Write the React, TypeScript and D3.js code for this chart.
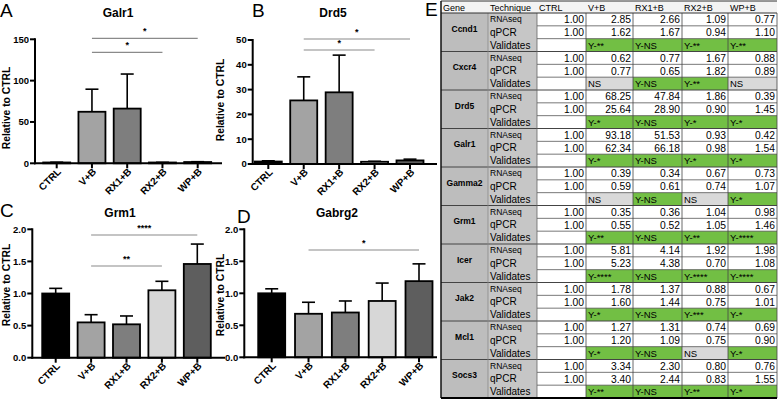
import React from "react";
import * as d3 from "d3";

// ---------- bar chart data ----------
const groups = ["CTRL", "V+B", "RX1+B", "RX2+B", "WP+B"];
const barFills = ["#000000", "#a3a3a3", "#7e7e7e", "#d7d7d7", "#5e5e5e"];

const galr1Mean = [1.0, 62.34, 66.18, 0.98, 1.54];
const galr1Sem = [0.3, 27.3, 41.8, 0.2, 0.4];
const galr1Ticks = [0, 50, 100, 150];

const drd5Mean = [1.0, 25.64, 28.9, 0.9, 1.45];
const drd5Sem = [0.3, 9.5, 15.0, 0.2, 0.5];
const drd5Ticks = [0, 10, 20, 30, 40, 50];

const grm1Mean = [1.0, 0.55, 0.52, 1.05, 1.46];
const grm1Sem = [0.08, 0.12, 0.13, 0.14, 0.31];
const grm1Ticks = [0, 0.5, 1.0, 1.5, 2.0];

const gabrg2Mean = [1.0, 0.68, 0.7, 0.88, 1.19];
const gabrg2Sem = [0.07, 0.18, 0.18, 0.28, 0.27];
const gabrg2Ticks = [0, 0.5, 1.0, 1.5, 2.0];

const galr1Sig = [
  { from: "V+B", to: "WP+B", label: "*" },
  { from: "V+B", to: "RX2+B", label: "*" },
];
const drd5Sig = [
  { from: "V+B", to: "WP+B", label: "*" },
  { from: "V+B", to: "RX2+B", label: "*" },
];
const grm1Sig = [
  { from: "V+B", to: "WP+B", label: "****" },
  { from: "V+B", to: "RX2+B", label: "**" },
];
const gabrg2Sig = [{ from: "V+B", to: "WP+B", label: "*" }];

// ---------- table data ----------
const tableHeader = ["Gene", "Technique", "CTRL", "V+B", "RX1+B", "RX2+B", "WP+B"];
const techniques = ["RNAseq", "qPCR", "Validates"];
const genes = ["Ccnd1", "Cxcr4", "Drd5", "Galr1", "Gamma2", "Grm1", "Icer", "Jak2", "Mcl1", "Socs3"];
const ctrlValue = 1.0;
const rnaseqValues = [
  [2.85, 2.66, 1.09, 0.77],
  [0.62, 0.77, 1.67, 0.88],
  [68.25, 47.84, 1.86, 0.39],
  [93.18, 51.53, 0.93, 0.42],
  [0.39, 0.34, 0.67, 0.73],
  [0.35, 0.36, 1.04, 0.98],
  [5.81, 4.14, 1.92, 1.98],
  [1.78, 1.37, 0.88, 0.67],
  [1.27, 1.31, 0.74, 0.69],
  [3.34, 2.3, 0.8, 0.76],
];
const qpcrValues = [
  [1.62, 1.67, 0.94, 1.1],
  [0.77, 0.65, 1.82, 0.89],
  [25.64, 28.9, 0.9, 1.45],
  [62.34, 66.18, 0.98, 1.54],
  [0.59, 0.61, 0.74, 1.07],
  [0.55, 0.52, 1.05, 1.46],
  [5.23, 4.38, 0.7, 1.08],
  [1.6, 1.44, 0.75, 1.01],
  [1.2, 1.09, 0.75, 0.9],
  [3.4, 2.44, 0.83, 1.55],
];
const validates = [
  ["Y-**", "Y-NS", "Y-**", "Y-**"],
  ["NS", "Y-NS", "Y-**", "NS"],
  ["Y-*", "Y-NS", "Y-*", "Y-*"],
  ["Y-*", "Y-NS", "Y-*", "Y-*"],
  ["NS", "Y-NS", "NS", "Y-*"],
  ["Y-**", "Y-NS", "Y-**", "Y-****"],
  ["Y-****", "Y-NS", "Y-****", "Y-****"],
  ["Y-*", "Y-NS", "Y-***", "Y-*"],
  ["Y-*", "Y-NS", "NS", "Y-*"],
  ["Y-**", "Y-NS", "Y-**", "Y-*"],
];

const FONT = "'Liberation Sans', Arial, sans-serif";

type Sig = { from: string; to: string; label: string };
type PanelProps = {
  letter: string;
  letterPos: [number, number];
  title: string;
  titleX: number;
  titleY: number;
  mean: number[];
  sem: number[];
  ticks: number[];
  fmt: (v: number) => string;
  axisX: number;
  axisEnd: number;
  yPix: [number, number];
  xPix: [number, number];
  sig: Sig[];
  sigY: number[];
  ylabel: [number, number];
};

function BarPanel(p: PanelProps) {
  const yMax = p.ticks[p.ticks.length - 1];
  const y = d3.scaleLinear().domain([0, yMax]).range(p.yPix);
  const x = d3.scalePoint<string>().domain(groups).range(p.xPix);
  const bw = 27;
  const y0 = y(0);
  return (
    <g fontFamily={FONT}>
      <text x={p.letterPos[0]} y={p.letterPos[1]} fontSize={19} fill="#000">
        {p.letter}
      </text>
      <text x={p.titleX} y={p.titleY} fontSize={12} fontWeight="bold" textAnchor="middle">
        {p.title}
      </text>
      <text
        transform={`translate(${p.ylabel[0]},${p.ylabel[1]}) rotate(-90)`}
        fontSize={10.3}
        fontWeight="bold"
        textAnchor="middle"
      >
        Relative to CTRL
      </text>
      {p.sig.map((s, i) => (
        <g key={i}>
          <line x1={x(s.from)!} x2={x(s.to)!} y1={p.sigY[i]} y2={p.sigY[i]} stroke="#8a8a8a" strokeWidth={1.2} />
          <text x={(x(s.from)! + x(s.to)!) / 2} y={p.sigY[i] - 4} fontSize={9} fontWeight="bold" textAnchor="middle">
            {s.label}
          </text>
        </g>
      ))}
      {groups.map((g, i) => {
        const top = y(p.mean[i] + p.sem[i]);
        const cx = x(g)!;
        return (
          <g key={"e" + g} stroke="#000" strokeWidth={1.6}>
            <line x1={cx} x2={cx} y1={y(p.mean[i])} y2={top} />
            <line x1={cx - 6.5} x2={cx + 6.5} y1={top} y2={top} />
          </g>
        );
      })}
      {groups.map((g, i) => {
        const top = y(p.mean[i]);
        return (
          <rect
            key={"b" + g}
            x={x(g)! - bw / 2}
            y={top}
            width={bw}
            height={Math.max(0.5, y0 - top)}
            fill={barFills[i]}
            stroke="#000"
            strokeWidth={1.8}
          />
        );
      })}
      <line x1={p.axisX} x2={p.axisX} y1={y(yMax) - 1} y2={y0 + 1} stroke="#000" strokeWidth={2} />
      <line x1={p.axisX - 1} x2={p.axisEnd} y1={y0} y2={y0} stroke="#000" strokeWidth={2} />
      {p.ticks.map((t) => (
        <g key={"t" + t}>
          <line x1={p.axisX - 5} x2={p.axisX} y1={y(t)} y2={y(t)} stroke="#000" strokeWidth={2} />
          <text x={p.axisX - 6} y={y(t)} dy="0.35em" fontSize={9.5} fontWeight="bold" textAnchor="end">
            {p.fmt(t)}
          </text>
        </g>
      ))}
      {groups.map((g) => (
        <g key={"x" + g}>
          <line x1={x(g)!} x2={x(g)!} y1={y0} y2={y0 + 5} stroke="#000" strokeWidth={2} />
          <text
            transform={`translate(${x(g)! + 5},${y0 + 9}) rotate(-45)`}
            fontSize={10}
            fontWeight="bold"
            textAnchor="end"
          >
            {g}
          </text>
        </g>
      ))}
    </g>
  );
}

function Table() {
  const colX = [441, 488, 537, 586, 633, 682, 728, 777];
  const headerTop = 1;
  const headerBottom = 13;
  const nRows = genes.length * 3;
  const row = d3.scaleLinear().domain([0, nRows]).range([headerBottom, 398]);
  const rh = row(1) - row(0);
  const green = "#72bf44";
  const nsGray = "#d9d9d9";
  const cells: JSX.Element[] = [];
  const lines: JSX.Element[] = [];
  const texts: JSX.Element[] = [];

  cells.push(<rect key="hdr" x={colX[0]} y={headerTop} width={colX[7] - colX[0]} height={headerBottom - headerTop} fill="#f3f3f3" />);
  tableHeader.forEach((h, i) => {
    texts.push(
      <text key={"h" + i} x={colX[i] + 2} y={10.5} fontSize={9}>
        {h}
      </text>
    );
  });

  genes.forEach((gene, gi) => {
    const top = row(gi * 3);
    const bottom = row(gi * 3 + 3);
    cells.push(<rect key={"g" + gi} x={colX[0]} y={top} width={colX[1] - colX[0]} height={bottom - top} fill="#bdbdbd" />);
    cells.push(<rect key={"tc" + gi} x={colX[1]} y={top} width={colX[2] - colX[1]} height={bottom - top} fill="#c6c6c6" />);
    texts.push(
      <text key={"gn" + gi} x={(colX[0] + colX[1]) / 2} y={top + 16} dy="0.35em" fontSize={8.5} fontWeight="bold" textAnchor="middle">
        {gene}
      </text>
    );
    techniques.forEach((t, ti) => {
      const ry = row(gi * 3 + ti);
      texts.push(
        <text key={"tn" + gi + ti} x={colX[1] + 2} y={ry + rh / 2} dy="0.36em" fontSize={ti === 0 ? 8.5 : 10}>
          {t}
        </text>
      );
    });
    const rowsVals = [rnaseqValues[gi], qpcrValues[gi]];
    rowsVals.forEach((vals, ri) => {
      const ry = row(gi * 3 + ri);
      [ctrlValue, ...vals].forEach((v, ci) => {
        texts.push(
          <text key={"v" + gi + ri + ci} x={colX[ci + 3] - 2} y={ry + rh / 2} dy="0.37em" fontSize={10.3} textAnchor="end">
            {v.toFixed(2)}
          </text>
        );
      });
      lines.push(<line key={"hl" + gi + ri} x1={colX[2]} x2={colX[7]} y1={row(gi * 3 + ri + 1)} y2={row(gi * 3 + ri + 1)} stroke="#555" strokeWidth={0.8} />);
    });
    const vy = row(gi * 3 + 2);
    validates[gi].forEach((v, ci) => {
      cells.push(
        <rect key={"vc" + gi + ci} x={colX[ci + 3]} y={vy} width={colX[ci + 4] - colX[ci + 3]} height={rh} fill={v === "NS" ? nsGray : green} />
      );
      texts.push(
        <text key={"vt" + gi + ci} x={colX[ci + 3] + 2} y={vy + rh / 2} dy="0.36em" fontSize={9.5}>
          {v}
        </text>
      );
    });
    lines.push(<line key={"bs" + gi} x1={colX[0]} x2={colX[7]} y1={bottom} y2={bottom} stroke="#444" strokeWidth={1} />);
  });

  for (let c = 3; c <= 7; c++) {
    lines.push(<line key={"vl" + c} x1={colX[c]} x2={colX[c]} y1={headerBottom} y2={398} stroke="#444" strokeWidth={0.8} />);
  }
  lines.push(<line key="vl2" x1={colX[2]} x2={colX[2]} y1={headerBottom} y2={398} stroke="#666" strokeWidth={0.8} />);
  lines.push(<line key="vl1" x1={colX[1]} x2={colX[1]} y1={headerBottom} y2={398} stroke="#888" strokeWidth={0.8} />);
  lines.push(<line key="hb" x1={colX[0]} x2={colX[7]} y1={headerBottom} y2={headerBottom} stroke="#333" strokeWidth={1} />);
  lines.push(<line key="ot" x1={colX[0]} x2={colX[7]} y1={headerTop} y2={headerTop} stroke="#333" strokeWidth={1} />);
  lines.push(<line key="ol" x1={colX[0]} x2={colX[0]} y1={headerTop} y2={398} stroke="#111" strokeWidth={1.5} />);
  lines.push(<line key="ob" x1={colX[0]} x2={colX[7]} y1={398} y2={398} stroke="#000" strokeWidth={2} />);

  return (
    <g fontFamily={FONT}>
      <text x={425} y={16} fontSize={19}>
        E
      </text>
      {cells}
      {lines}
      {texts}
    </g>
  );
}

export default function App() {
  const f0 = (v: number) => d3.format("d")(v);
  const f1 = (v: number) => d3.format(".1f")(v);
  return (
    <svg width={778} height={402} style={{ position: "absolute", left: 0, top: 0, background: "#fff" }}>
      <rect width={778} height={402} fill="#fff" />
      <BarPanel
        letter="A"
        letterPos={[0, 17]}
        title="Galr1"
        titleX={118}
        titleY={17}
        mean={galr1Mean}
        sem={galr1Sem}
        ticks={galr1Ticks}
        fmt={f0}
        axisX={35}
        axisEnd={222}
        yPix={[163.3, 39.3]}
        xPix={[56.7, 197.7]}
        sig={galr1Sig}
        sigY={[38.3, 52.3]}
        ylabel={[10, 108]}
      />
      <BarPanel
        letter="B"
        letterPos={[252, 17]}
        title="Drd5"
        titleX={333}
        titleY={17}
        mean={drd5Mean}
        sem={drd5Sem}
        ticks={drd5Ticks}
        fmt={f0}
        axisX={252.7}
        axisEnd={437}
        yPix={[164, 40]}
        xPix={[268.3, 410]}
        sig={drd5Sig}
        sigY={[39, 50]}
        ylabel={[224, 100]}
      />
      <BarPanel
        letter="C"
        letterPos={[0, 217]}
        title="Grm1"
        titleX={120}
        titleY={217}
        mean={grm1Mean}
        sem={grm1Sem}
        ticks={grm1Ticks}
        fmt={f1}
        axisX={32.3}
        axisEnd={225}
        yPix={[357.7, 229.3]}
        xPix={[55.7, 197.3]}
        sig={grm1Sig}
        sigY={[235, 266]}
        ylabel={[10, 285]}
      />
      <BarPanel
        letter="D"
        letterPos={[237, 223]}
        title="Gabrg2"
        titleX={337}
        titleY={217}
        mean={gabrg2Mean}
        sem={gabrg2Sem}
        ticks={gabrg2Ticks}
        fmt={f1}
        axisX={244.3}
        axisEnd={437}
        yPix={[357.3, 229.3]}
        xPix={[271.7, 419]}
        sig={gabrg2Sig}
        sigY={[250]}
        ylabel={[224, 295]}
      />
      <Table />
    </svg>
  );
}
